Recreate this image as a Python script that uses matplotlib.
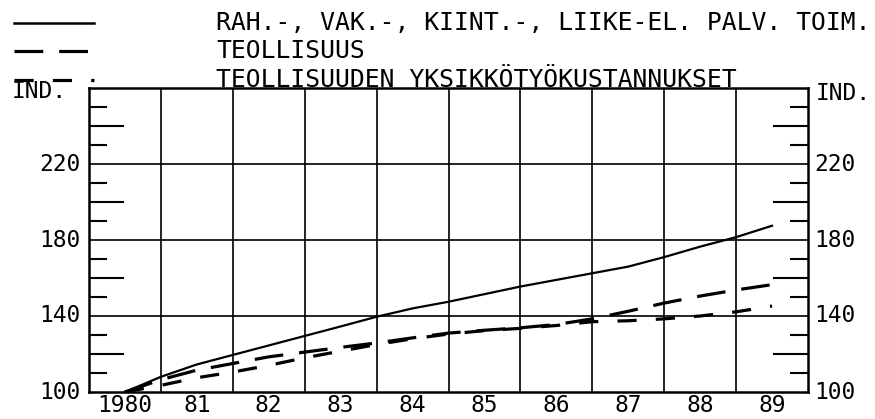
import matplotlib
matplotlib.use("Agg")
import matplotlib.pyplot as plt
import numpy as np

# ---- data ----
x_years = [1980.5, 1981.0, 1981.5, 1982.0, 1982.5, 1983.0, 1983.5, 1984.0, 1984.5,
           1985.0, 1985.5, 1986.0, 1986.5, 1987.0, 1987.5, 1988.0, 1988.5, 1989.0, 1989.5]
rahoitus = [100, 108, 114.5, 119.5, 124.5, 129.5, 134.5, 139.6, 144,
            147.5, 151.5, 155.5, 159, 162.5, 166, 171, 176.5, 181.5, 187.5]
teollisuus = [100, 106.5, 111.5, 115, 118.5, 121, 123.5, 125.8, 128.5,
              131, 132.5, 133.8, 135.5, 138.5, 142.5, 146.8, 150.5, 153.7, 156.5]
yksikko = [100, 103.5, 107.5, 110.5, 114, 118, 121.5, 125, 128,
           130.5, 132.3, 133.5, 135, 137, 137.5, 138.5, 140, 142.2, 145.2]

series_labels = ["RAH.-, VAK.-, KIINT.-, LIIKE-EL. PALV. TOIM.",
                 "TEOLLISUUS",
                 "TEOLLISUUDEN YKSIKKÖTYÖKUSTANNUKSET"]
year_labels = ["1980", "81", "82", "83", "84", "85", "86", "87", "88", "89"]
year_label_pos = [1980.5 + i for i in range(10)]
y_labels = [100, 140, 180, 220]

W, H = 875, 419
fig = plt.figure(figsize=(W / 100, H / 100), dpi=100)
plt.rcParams['font.family'] = ['DejaVu Sans Mono', 'DejaVu Sans']
FS = 16.5
FS_LEG = 17.8

def fx(px):
    return px / W

def fy(py):
    return 1 - py / H

ax = fig.add_axes([fx(89), fy(392), fx(808) - fx(89), fy(88) - fy(392)])
ax.set_xlim(1980, 1990)
ax.set_ylim(100, 260)

for s in ax.spines.values():
    s.set_linewidth(1.8)
    s.set_color('black')

# grid
for yv in [140, 180, 220]:
    ax.axhline(yv, color='black', lw=1.2, zorder=1)
for xv in range(1981, 1990):
    ax.axvline(xv, color='black', lw=1.2, zorder=1)

# inward tick marks on both sides
ax.set_xticks([])
ax.set_yticks([])
for yv in range(110, 260, 10):
    if yv in (140, 180, 220):
        continue
    L = 0.049 if yv % 20 == 0 else 0.025
    ax.plot([1980, 1980 + L * 10], [yv, yv], color='black', lw=1.5, zorder=1, solid_capstyle='butt')
    ax.plot([1990 - L * 10, 1990], [yv, yv], color='black', lw=1.5, zorder=1, solid_capstyle='butt')

# tick labels
for yv in y_labels:
    ax.text(1980 - 0.12, yv, str(yv), ha='right', va='center', fontsize=FS)
    ax.text(1990 + 0.08, yv, str(yv), ha='left', va='center', fontsize=FS)
fig.text(fx(12), fy(92), "IND.", ha='left', va='center', fontsize=FS)
fig.text(fx(816), fy(93), "IND.", ha='left', va='center', fontsize=FS)
for xp, lab in zip(year_label_pos, year_labels):
    ax.text(xp, 93, lab, ha='center', va='center', fontsize=FS)

# series
ax.plot(x_years, rahoitus, color='black', lw=1.6, zorder=3)
ax.plot(x_years, teollisuus, color='black', lw=2.3, dashes=(9, 5), zorder=3)
ax.plot(x_years, yksikko, color='black', lw=2.3, dashes=(6, 6), zorder=3)

# legend at top
leg_rows = [23, 51, 80]
styles = [dict(lw=1.8), dict(lw=2.3, dashes=(9, 5)), dict(lw=2.3, dashes=(6, 6))]
for row, st, lab in zip(leg_rows, styles, series_labels):
    fig.add_artist(plt.Line2D([fx(14), fx(94)], [fy(row), fy(row)],
                              color='black', transform=fig.transFigure, **st))
    fig.text(fx(216), fy(row), lab, ha='left', va='center', fontsize=FS_LEG)

fig.savefig("out.png", dpi=100)
